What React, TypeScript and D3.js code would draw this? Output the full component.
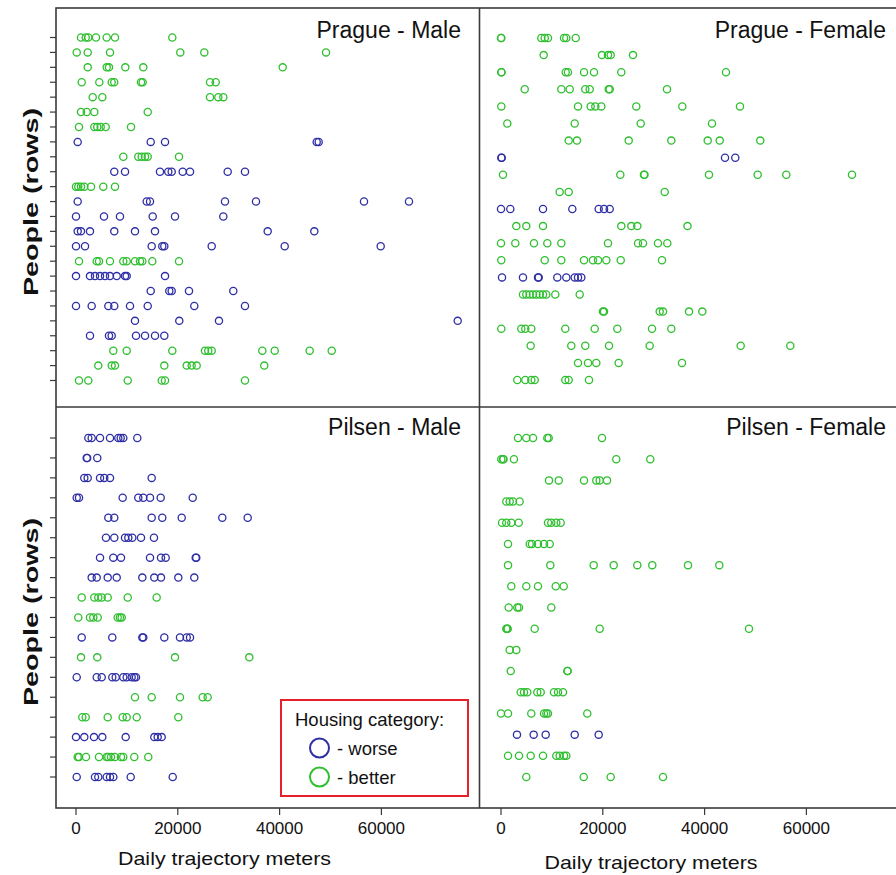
import React from 'react';
import * as d3 from 'd3';

// ---------- data ----------
const housingLabels = ['worse', 'better'];
const xTickValues = [0, 20000, 40000, 60000];
const panelTitles = ['Prague - Male', 'Prague - Female', 'Pilsen - Male', 'Pilsen - Female'];

// row housing categories (top to bottom) and daily trajectory meters per row
const pragueMaleHousing = ['better','better','better','better','better','better','better','worse','better','worse','better','worse','worse','worse','worse','better','worse','worse','worse','worse','worse','better','better','better'];
const pragueMaleMeters = [
  [980, 1910, 2420, 3930, 6030, 7660, 18920],
  [140, 2300, 6680, 20490, 25210, 49120],
  [2300, 6030, 6480, 9690, 13220, 40610],
  [1120, 4580, 7010, 7520, 12770, 13100, 26330, 27450],
  [3280, 5170, 26330, 27960, 28940],
  [980, 2100, 3600, 14090],
  [590, 3600, 4180, 4850, 5830, 10810],
  [330, 14680, 17490, 47290, 47680],
  [9290, 12240, 12910, 13560, 14090, 20240],
  [7520, 9630, 16500, 18130, 18800, 20960, 22400, 29800, 33200],
  [0, 450, 980, 1630, 2950, 5360, 7660],
  [330, 13890, 14540, 29270, 35360, 56580, 65420],
  [0, 5500, 8640, 15070, 19450, 28940],
  [330, 980, 2750, 7520, 11590, 15520, 37660, 46820],
  [0, 1770, 14870, 16950, 17350, 26660, 41000, 59860],
  [590, 4070, 4520, 6680, 9290, 9960, 11590, 12570, 13030, 14990, 20240],
  [0, 2750, 3730, 4720, 5700, 6680, 8000, 9630, 9960, 17490],
  [14680, 18330, 18800, 22200, 30900],
  [0, 3080, 6350, 7520, 10610, 14090, 23240, 33200],
  [11590, 20290, 28090, 74990],
  [2750, 6480, 7010, 11790, 13560, 15520, 17350],
  [7330, 9960, 18920, 25340, 25990, 26660, 36600, 39040, 45910, 50240],
  [4380, 7010, 7660, 17350, 21750, 22730, 23710, 36990],
  [590, 2420, 10160, 16840, 17490, 33200],
];

const pragueFemaleHousing = ['better','better','better','better','better','better','better','worse','better','better','worse','better','better','better','worse','better','better','better','better','better','better'];
const pragueFemaleMeters = [
  [0, 60, 7920, 8590, 9230, 12380, 12830, 14680],
  [8390, 19840, 21020, 21550, 25930],
  [60, 100, 12710, 13160, 16310, 18270, 23630, 44200],
  [4660, 11850, 13500, 16560, 17430, 21160, 21360, 32610],
  [60, 15130, 17620, 18530, 19710, 26580, 35620, 46950],
  [1240, 14480, 27450, 41450],
  [13300, 14930, 25090, 33460, 40610, 42970, 50940],
  [60, 150, 44010, 46030],
  [390, 23440, 28090, 28190, 40860, 50430, 56050, 68960],
  [11530, 13300, 32160],
  [0, 1830, 8250, 14010, 19190, 20240, 21360],
  [3010, 4970, 8250, 23630, 25600, 26780, 36640],
  [0, 2810, 6480, 9100, 11850, 21020, 26920, 27900, 30840, 32670],
  [60, 8590, 11850, 16310, 18070, 19060, 20690, 23520, 31630],
  [200, 4320, 7270, 7410, 11060, 12830, 14480, 15130, 15780],
  [4320, 4970, 5640, 6290, 6940, 7600, 8250, 8900, 10670, 15460],
  [20040, 20240, 31180, 31830, 36940, 39550],
  [60, 3990, 4770, 5950, 12630, 18410, 22850, 29670, 33460],
  [5830, 13810, 16560, 21220, 29210, 47090, 56840],
  [15130, 17090, 18720, 23120, 35560],
  [3200, 4770, 5950, 6620, 12630, 13300, 17290],
];

const pilsenMaleHousing = ['worse','worse','worse','worse','worse','worse','worse','worse','better','better','worse','better','worse','better','better','worse','better','worse'];
const pilsenMaleMeters = [
  [2420, 3080, 4720, 6680, 8310, 8780, 9290, 12040],
  [2100, 2200, 4180],
  [1630, 2300, 4720, 5560, 6680, 14870],
  [140, 590, 9170, 12240, 13220, 14540, 16640, 22930],
  [6350, 7520, 14870, 16950, 20770, 28740, 33730],
  [5890, 7520, 9630, 10280, 11060, 12770, 15320],
  [4720, 7330, 8840, 14540, 16700, 17620, 23520, 23630],
  [3080, 4070, 6230, 8000, 13030, 15380, 16700, 20100, 23240],
  [1120, 3600, 4380, 5050, 6230, 10160, 15850],
  [450, 2750, 3400, 4260, 8190, 8640, 8980],
  [1120, 7130, 13030, 13220, 17350, 20430, 21750, 22400],
  [980, 4180, 19450, 34050],
  [140, 4070, 5050, 7130, 7800, 9290, 9960, 10940, 11450, 11790],
  [11590, 14870, 20430, 24890, 25870],
  [1240, 1910, 6230, 9170, 9960, 11930, 20100],
  [0, 1630, 3540, 5170, 9760, 15380, 16050, 16840],
  [330, 590, 1960, 4520, 6030, 6350, 6880, 7660, 8840, 9290, 11450, 14200],
  [140, 3730, 4380, 6030, 6680, 7330, 10750, 19000],
];

const pilsenFemaleHousing = ['better','better','better','better','better','better','better','better','better','better','better','better','better','better','worse','better','better'];
const pilsenFemaleMeters = [
  [3340, 4970, 6290, 9100, 9370, 19840],
  [60, 390, 500, 2550, 22650, 29330],
  [9430, 11340, 16310, 18720, 19390, 20830],
  [1040, 1710, 2360, 3670],
  [200, 1040, 2020, 3480, 9230, 9880, 10860, 11730],
  [1380, 5640, 6090, 7270, 8450, 9570],
  [1380, 9690, 18210, 22140, 26780, 29720, 36740, 42890],
  [2020, 4970, 7270, 10750, 12320],
  [1510, 3200, 3540, 9880],
  [1040, 1240, 1300, 6620, 19390, 48720],
  [1710, 3010],
  [1910, 13030, 13100],
  [3870, 4520, 5170, 7130, 7800, 10410, 11200, 12180],
  [0, 1380, 5950, 8450, 8900, 9230, 16950],
  [3140, 6420, 8780, 14480, 19190],
  [1380, 3540, 5830, 8250, 10860, 11530, 12380, 12830],
  [4970, 16250, 21550, 31830],
];

// ---------- layout ----------
const W = 896, H = 875;
const FONT = '"Liberation Sans", Arial, Helvetica, sans-serif';
const frameLeft = 56, frameMidX = 479.5, frameRight = 902;
const frameTop = 8, frameMidY = 407, frameBottom = 808;
const colorOf: Record<string, string> = { worse: '#2e2ea6', better: '#2fbf2f' };

const xLeft = d3.scaleLinear().domain([0, 60000]).range([76, 381.4]);
const xRight = d3.scaleLinear().domain([0, 60000]).range([501, 806.4]);

type Panel = {
  title: string; housing: string[]; meters: number[][];
  x: d3.ScaleLinear<number, number>; yRange: [number, number]; titleX: number; titleY: number;
};

const panels: Panel[] = [
  { title: panelTitles[0], housing: pragueMaleHousing, meters: pragueMaleMeters, x: xLeft, yRange: [37.5, 380.5], titleX: 461, titleY: 38 },
  { title: panelTitles[1], housing: pragueFemaleHousing, meters: pragueFemaleMeters, x: xRight, yRange: [38, 380], titleX: 886, titleY: 38 },
  { title: panelTitles[2], housing: pilsenMaleHousing, meters: pilsenMaleMeters, x: xLeft, yRange: [438, 777], titleX: 461, titleY: 435 },
  { title: panelTitles[3], housing: pilsenFemaleHousing, meters: pilsenFemaleMeters, x: xRight, yRange: [438, 777], titleX: 886, titleY: 435 },
];

function rowScale(p: Panel) {
  return d3.scalePoint<number>().domain(d3.range(p.meters.length)).range(p.yRange);
}

export default function App() {
  const frameColor = '#3a3a3a';
  return (
    <svg width={W} height={H} style={{ position: 'absolute', left: 0, top: 0, background: '#fff' }} fontFamily={FONT}>
      <rect x={0} y={0} width={W} height={H} fill="#fff" />
      {/* points */}
      {panels.map((p, pi) => {
        const y = rowScale(p);
        return (
          <g key={pi}>
            {p.meters.map((row, ri) =>
              row.map((v, vi) => (
                <circle key={ri + '-' + vi} cx={p.x(v)} cy={y(ri)} r={3.6} fill="none"
                  stroke={colorOf[p.housing[ri]]} strokeWidth={1.3} />
              ))
            )}
            <text x={p.titleX} y={p.titleY} textAnchor="end" fontSize={23} fill="#111">{p.title}</text>
          </g>
        );
      })}
      {/* frames */}
      <rect x={frameLeft} y={frameTop} width={frameRight - frameLeft} height={frameBottom - frameTop} fill="none" stroke={frameColor} strokeWidth={1.6} />
      <line x1={frameMidX} x2={frameMidX} y1={frameTop} y2={frameBottom} stroke={frameColor} strokeWidth={1.6} />
      <line x1={frameLeft} x2={frameRight} y1={frameMidY} y2={frameMidY} stroke={frameColor} strokeWidth={1.6} />
      {/* y ticks (left panels' rows) */}
      {[panels[0], panels[2]].map((p, i) => {
        const y = rowScale(p);
        return (
          <g key={'yt' + i}>
            {y.domain().map(d => (
              <line key={d} x1={frameLeft - 6} x2={frameLeft} y1={y(d)} y2={y(d)} stroke={frameColor} strokeWidth={1.2} />
            ))}
          </g>
        );
      })}
      {/* x ticks */}
      {[xLeft, xRight].map((sc, i) => (
        <g key={'xt' + i}>
          {xTickValues.map(t => (
            <g key={t}>
              <line x1={sc(t)} x2={sc(t)} y1={frameBottom} y2={frameBottom + 7} stroke={frameColor} strokeWidth={1.2} />
              <text x={sc(t)} y={frameBottom + 26} textAnchor="middle" fontSize={17} fill="#111">{t}</text>
            </g>
          ))}
        </g>
      ))}
      <text x={224.5} y={865} textAnchor="middle" fontSize={19} fill="#111" textLength={213} lengthAdjust="spacingAndGlyphs">Daily trajectory meters</text>
      <text x={651} y={869} textAnchor="middle" fontSize={19} fill="#111" textLength={213} lengthAdjust="spacingAndGlyphs">Daily trajectory meters</text>
      {/* y labels */}
      <text transform="translate(38,202) rotate(-90)" textAnchor="middle" fontSize={21} fontWeight="bold" fill="#111" textLength={188} lengthAdjust="spacingAndGlyphs">People (rows)</text>
      <text transform="translate(38,612) rotate(-90)" textAnchor="middle" fontSize={21} fontWeight="bold" fill="#111" textLength={188} lengthAdjust="spacingAndGlyphs">People (rows)</text>
      {/* legend */}
      <g>
        <rect x={281} y={700} width={187} height={96} fill="#fff" stroke="#e8202a" strokeWidth={2} />
        <text x={295} y={726} fontSize={18.5} fill="#111">Housing category:</text>
        {housingLabels.map((h, i) => (
          <g key={h}>
            <circle cx={319.5} cy={748 + i * 29} r={9.5} fill="none" stroke={colorOf[h]} strokeWidth={2} />
            <text x={337} y={755 + i * 29} fontSize={18.5} fill="#111">{'- ' + h}</text>
          </g>
        ))}
      </g>
    </svg>
  );
}
